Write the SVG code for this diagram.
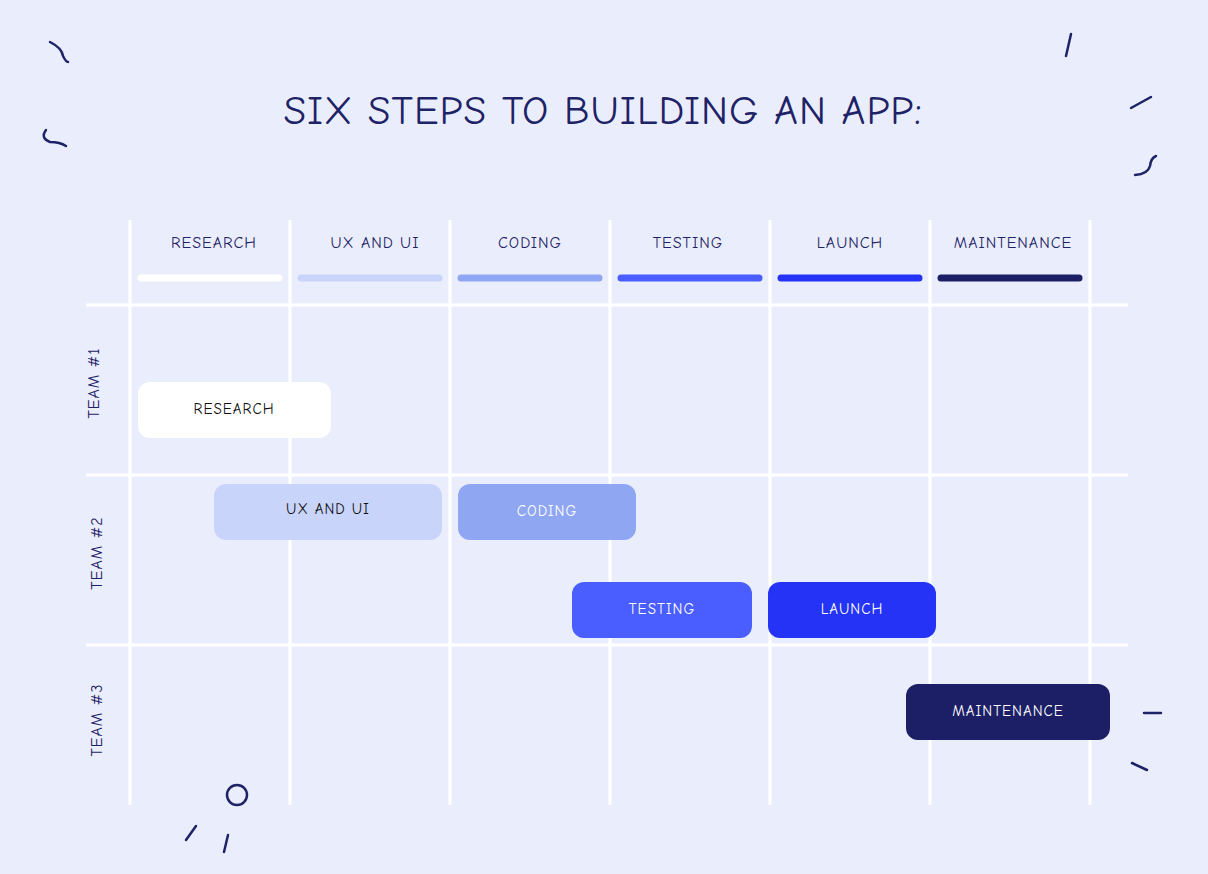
<svg xmlns="http://www.w3.org/2000/svg" width="1208" height="874" viewBox="0 0 1208 874">
<style>
.t{font-family:"Comic Neue","Liberation Sans",sans-serif;text-anchor:middle;dominant-baseline:central;letter-spacing:1px}
.h{font-size:16px;fill:#1E2266}
.b{font-size:15px}
.g{stroke:#fff;stroke-width:3;fill:none}
.d{stroke:#1E2266;stroke-width:2.5;fill:none;stroke-linecap:round}
.bar{stroke-width:7;stroke-linecap:round}
</style>
<rect width="1208" height="874" fill="#EAEEFC"/>
<g id="decor" class="d">
<path d="M50 42 Q62 48 63 56 Q66 62 68 62"/>
<path d="M46 130 Q40 138 50 142 Q60 142 66 146"/>
<path d="M1071 34 L1066 56"/>
<path d="M1131 108 L1151 97"/>
<path d="M1135 175 Q1148 174 1150 166 Q1151 158 1156 156"/>
<path d="M1144 713 L1161 713"/>
<path d="M1132 763 L1147 770"/>
<circle cx="237" cy="795" r="10"/>
<path d="M196 826 L186 840"/>
<path d="M228 835 L224 852"/>
</g>
<text class="t" x="603" y="110" font-size="41" fill="#1E2266" letter-spacing="3">SIX STEPS TO BUILDING AN APP:</text>
<g id="grid" class="g">
<path d="M130 220V805M290 220V805M450 220V805M610 220V805M770 220V805M930 220V805M1090 220V805"/>
<path d="M86 305H1128M86 475H1128M86 645H1128"/>
</g>
<g id="headers">
<text class="t h" x="214" y="243">RESEARCH</text>
<text class="t h" x="375" y="243">UX AND UI</text>
<text class="t h" x="530" y="243">CODING</text>
<text class="t h" x="688" y="243">TESTING</text>
<text class="t h" x="850" y="243">LAUNCH</text>
<text class="t h" x="1013" y="243">MAINTENANCE</text>
<line class="bar" x1="141" y1="278" x2="279" y2="278" stroke="#fff"/>
<line class="bar" x1="301" y1="278" x2="439" y2="278" stroke="#C8D4FA"/>
<line class="bar" x1="461" y1="278" x2="599" y2="278" stroke="#8FA6F2"/>
<line class="bar" x1="621" y1="278" x2="759" y2="278" stroke="#4A5EFF"/>
<line class="bar" x1="781" y1="278" x2="919" y2="278" stroke="#2433F5"/>
<line class="bar" x1="941" y1="278" x2="1079" y2="278" stroke="#1C1F66"/>
</g>
<g id="teams">
<text class="t h" transform="translate(94 383) rotate(-90)">TEAM #1</text>
<text class="t h" transform="translate(97 553) rotate(-90)">TEAM #2</text>
<text class="t h" transform="translate(97 720) rotate(-90)">TEAM #3</text>
</g>
<g id="n-research"><rect x="138" y="382" width="193" height="56" rx="12" fill="#fff"/><text class="t b" x="234" y="409" fill="#111">RESEARCH</text></g>
<g id="n-ux"><rect x="214" y="484" width="228" height="56" rx="12" fill="#C8D4FA"/><text class="t b" x="328" y="509" fill="#111">UX AND UI</text></g>
<g id="n-coding"><rect x="458" y="484" width="178" height="56" rx="12" fill="#8FA6F2"/><text class="t b" x="547" y="511" fill="#fff">CODING</text></g>
<g id="n-testing"><rect x="572" y="582" width="180" height="56" rx="12" fill="#4A5EFF"/><text class="t b" x="662" y="609" fill="#fff">TESTING</text></g>
<g id="n-launch"><rect x="768" y="582" width="168" height="56" rx="12" fill="#2433F5"/><text class="t b" x="852" y="609" fill="#fff">LAUNCH</text></g>
<g id="n-maint"><rect x="906" y="684" width="204" height="56" rx="12" fill="#1C1F66"/><text class="t b" x="1008" y="711" fill="#fff">MAINTENANCE</text></g>
</svg>
